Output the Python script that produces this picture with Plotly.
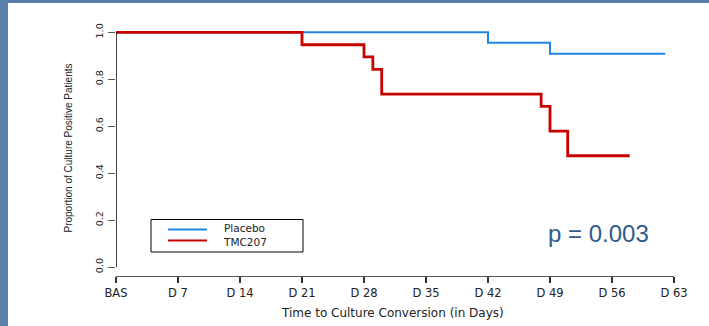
import plotly.graph_objects as go

# ---- data ----
placebo_days = [0, 42, 49, 62]
placebo_surv = [1.0, 0.955, 0.909, 0.909]
tmc_days = [0, 21, 28, 29, 30, 48, 49, 51, 58]
tmc_surv = [1.0, 0.947, 0.895, 0.842, 0.737, 0.684, 0.579, 0.474, 0.474]
x_tickvals = [0, 7, 14, 21, 28, 35, 42, 49, 56, 63]
x_ticktext = ["BAS", "D 7", "D 14", "D 21", "D 28", "D 35", "D 42", "D 49", "D 56", "D 63"]
y_tickvals = [0.0, 0.2, 0.4, 0.6, 0.8, 1.0]
y_ticktext = ["0.0", "0.2", "0.4", "0.6", "0.8", "1.0"]
series_names = ["Placebo", "TMC207"]
series_colors = ["#1E86E6", "#C80000"]

W, H = 709, 326
L, R, T, B = 116, 35, 30, 50
PW, PH = W - L - R, H - T - B


def px(x):
    return (x - L) / PW


def py(y):
    return (H - B - y) / PH


fig = go.Figure()
fig.add_trace(go.Scatter(x=placebo_days, y=placebo_surv, mode="lines", line_shape="hv",
                         line=dict(color=series_colors[0], width=2), name=series_names[0],
                         showlegend=False))
fig.add_trace(go.Scatter(x=tmc_days, y=tmc_surv, mode="lines", line_shape="hv",
                         line=dict(color=series_colors[1], width=2.8), name=series_names[1],
                         showlegend=False))

shapes = [
    # white slide panel
    dict(type="rect", xref="paper", yref="paper", x0=px(8), x1=px(720), y0=py(340), y1=py(3),
         fillcolor="white", line_width=0, layer="below"),
    # y axis line (spans 0..1 only)
    dict(type="line", xref="x", yref="y", x0=0, x1=0, y0=0, y1=1,
         line=dict(color="black", width=1.5)),
    # legend box
    dict(type="rect", xref="paper", yref="paper", x0=px(151), x1=px(303), y0=py(252), y1=py(219.5),
         line=dict(color="black", width=1), fillcolor="white"),
]
leg_y = [229.5, 240.5]
for col, yy in zip(series_colors, leg_y):
    shapes.append(dict(type="line", xref="paper", yref="paper", x0=px(168), x1=px(207),
                       y0=py(yy), y1=py(yy), line=dict(color=col, width=2)))

annotations = [
    dict(text="<br>".join(series_names), xref="paper", yref="paper", x=px(222), y=py(235),
         xanchor="left", yanchor="middle", align="left", showarrow=False, borderpad=0,
         font=dict(family="DejaVu Sans", size=10.5, color="#222")),
    dict(text="p = 0.003", xref="paper", yref="paper", x=px(546), y=py(233),
         xanchor="left", yanchor="middle", showarrow=False,
         font=dict(family="Liberation Sans", size=24, color="#2F5B8C")),
    dict(text="Proportion of Culture Positive Patients", xref="paper", yref="paper",
         x=px(68), y=py(148.5), textangle=-90, xanchor="center", yanchor="middle",
         showarrow=False, font=dict(family="Liberation Sans", size=10, color="#222")),
    dict(text="Time to Culture Conversion (in Days)", xref="paper", yref="paper",
         x=px(392), y=py(313), xanchor="center", yanchor="middle", showarrow=False,
         font=dict(family="DejaVu Sans", size=12, color="#222")),
]

fig.update_layout(
    width=W, height=H,
    margin=dict(l=L, r=R, t=T, b=B, pad=0),
    paper_bgcolor="#5B7FAB",
    plot_bgcolor="rgba(0,0,0,0)",
    shapes=shapes,
    annotations=annotations,
    showlegend=False,
    xaxis=dict(range=[0, 63], tickvals=x_tickvals, ticktext=x_ticktext,
               showgrid=False, zeroline=False, showline=True, linecolor="#555", linewidth=1,
               ticks="outside", ticklen=6, tickcolor="#333", tickwidth=1.5,
               tickfont=dict(family="DejaVu Sans", size=11.5, color="#222")),
    yaxis=dict(range=[-9 / 234.7, 1 + 2.3 / 234.7], tickvals=y_tickvals, ticktext=y_ticktext,
               showgrid=False, zeroline=False, showline=False,
               ticks="outside", ticklen=7, tickcolor="#555", tickwidth=1,
               tickangle=-90, ticklabelstandoff=1,
               tickfont=dict(family="DejaVu Sans", size=9.5, color="#222")),
)

fig.write_html("out.html")
